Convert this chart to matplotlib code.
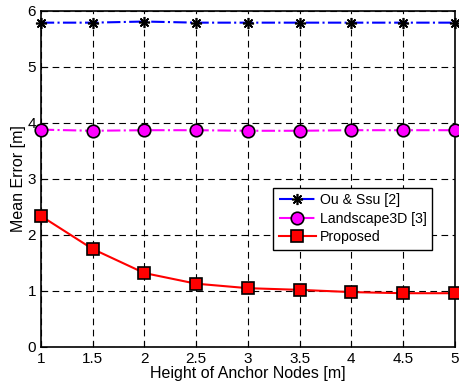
import numpy as np
import matplotlib
matplotlib.use('Agg')
import matplotlib.pyplot as plt

plt.rcParams['font.family'] = ['Liberation Sans', 'DejaVu Sans']

# datos
altura = [1, 1.5, 2, 2.5, 3, 3.5, 4, 4.5, 5]
ou_ssu = [5.79, 5.79, 5.81, 5.79, 5.79, 5.79, 5.79, 5.79, 5.79]
landscape = [3.88, 3.86, 3.87, 3.87, 3.86, 3.86, 3.87, 3.87, 3.87]
propuesto = [2.34, 1.75, 1.32, 1.13, 1.05, 1.02, 0.98, 0.96, 0.96]

fig = plt.figure(figsize=(4.59, 3.89), dpi=100)
ax = fig.add_axes([0.089, 0.108, 0.902, 0.864])

ax.plot(altura, ou_ssu, color='blue', linestyle='-.', marker=(8, 2, 0), markersize=8,
        markerfacecolor='black', markeredgecolor='black', markeredgewidth=1.2,
        label='Ou & Ssu [2]', clip_on=False, zorder=3)
ax.plot(altura, landscape, color='magenta', linestyle='-.', marker='o', markersize=9,
        markerfacecolor='magenta', markeredgecolor='black', markeredgewidth=1.2,
        label='Landscape3D [3]', clip_on=False, zorder=3)
ax.plot(altura, propuesto, color='red', linestyle='-', marker='s', markersize=8,
        markerfacecolor='red', markeredgecolor='black', markeredgewidth=1.2,
        label='Proposed', clip_on=False, zorder=3)

ax.set_xlim(1, 5)
ax.set_ylim(0, 6)
ax.set_xticks([1, 1.5, 2, 2.5, 3, 3.5, 4, 4.5, 5])
ax.set_xticklabels(['1', '1.5', '2', '2.5', '3', '3.5', '4', '4.5', '5'])
ax.set_yticks([0, 1, 2, 3, 4, 5, 6])
ax.grid(True, color='black', linestyle=(0, (6, 4)), linewidth=0.8)
ax.tick_params(direction='in', labelsize=11, length=4)
for s in ax.spines.values():
    s.set_linewidth(1.2)

ax.set_xlabel('Height of Anchor Nodes [m]', fontsize=11.5, labelpad=0)
ax.set_ylabel('Mean Error [m]', fontsize=11.5, labelpad=1)

leg = ax.legend(loc='upper right', bbox_to_anchor=(0.963, 0.495), fontsize=10.2,
                fancybox=False, framealpha=1, edgecolor='black', borderpad=0.4,
                handlelength=2.6, labelspacing=0.3, handletextpad=0.3)
leg.get_frame().set_linewidth(1.0)

fig.savefig('out.png', dpi=100)
